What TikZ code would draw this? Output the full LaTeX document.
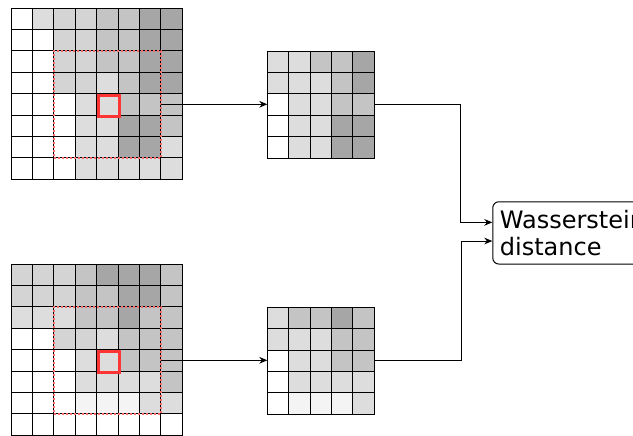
\documentclass[tikz,border=0pt]{standalone}
\usepackage{fontspec}
\usepackage{tikz}
\usetikzlibrary{arrows.meta}
\newfontfamily\labelfont{DejaVu Sans}
\definecolor{lvl0}{HTML}{FFFFFF}
\definecolor{lvl1}{HTML}{F4F4F4}
\definecolor{lvl2}{HTML}{DDDDDD}
\definecolor{lvl3}{HTML}{D4D4D4}
\definecolor{lvl4}{HTML}{C4C4C4}
\definecolor{lvl5}{HTML}{A6A6A6}
\definecolor{winred}{HTML}{F26C6C}
\definecolor{pixred}{HTML}{FF3535}

\begin{document}
\begin{tikzpicture}[x=0.75pt,y=-0.75pt,
  cellline/.style={black,line width=0.7pt},
  gridbox/.style={draw=black,line width=0.7pt,anchor=north west,inner sep=0pt,outer sep=0pt},
  winbox/.style={draw=winred,line width=1.5pt,dash pattern=on 1.6pt off 1.4pt,anchor=north west,inner sep=0pt,outer sep=0pt,minimum size=80.25pt},
  pixbox/.style={draw=pixred,line width=2.2pt,anchor=north west,inner sep=0pt,minimum size=16.05pt},
  conn/.style={-{Stealth[length=6pt,width=5pt]},line width=0.75pt},
  distbox/.style={draw=black,line width=0.75pt,rounded corners=4.5pt,anchor=west,align=left,
    font=\labelfont\fontsize{18}{20.7}\selectfont,inner xsep=5.3pt,minimum height=46.7pt}]
  \useasboundingbox (0,0) rectangle (633,436);

  % input patch 1
  \begin{scope}[shift={(11,8)}]
    \foreach \row [count=\r from 0] in {{0,2,3,3,4,4,5,5},{0,0,3,3,4,4,5,5},{0,0,3,3,4,4,5,5},{0,0,3,3,2,4,5,5},
                                       {0,0,0,2,2,4,4,4},{0,0,0,2,2,5,5,4},{0,0,0,2,2,5,5,2},{0,0,0,2,2,2,2,2}}
      \foreach \v [count=\c from 0] in \row
        \fill[lvl\v] (21.4*\c,21.4*\r) rectangle ++(21.4,21.4);
    \foreach \i in {1,...,7} {
      \draw[cellline] (21.4*\i,0) -- (21.4*\i,171.2);
      \draw[cellline] (0,21.4*\i) -- (171.2,21.4*\i);
    }
  \end{scope}
  \node[gridbox,minimum size=128.4pt] (inA) at (11,8) {};
  \node[winbox] (winA) at (53.8,50.8) {};
  \node[pixbox] (pixA) at (96.6,93.6) {};

  % input patch 2
  \begin{scope}[shift={(11,264)}]
    \foreach \row [count=\r from 0] in {{3,3,3,4,5,5,5,4},{3,3,3,4,4,5,5,4},{2,2,2,4,4,5,4,4},{0,0,3,3,2,4,4,4},
                                       {0,0,0,2,2,4,4,4},{0,0,0,2,2,2,2,4},{0,0,0,1,1,1,2,2},{0,0,0,0,0,0,0,0}}
      \foreach \v [count=\c from 0] in \row
        \fill[lvl\v] (21.4*\c,21.4*\r) rectangle ++(21.4,21.4);
    \foreach \i in {1,...,7} {
      \draw[cellline] (21.4*\i,0) -- (21.4*\i,171.2);
      \draw[cellline] (0,21.4*\i) -- (171.2,21.4*\i);
    }
  \end{scope}
  \node[gridbox,minimum size=128.4pt] (inB) at (11,264) {};
  \node[winbox] (winB) at (53.8,306.8) {};
  \node[pixbox] (pixB) at (96.6,349.6) {};

  % output patches
  \begin{scope}[shift={(267.3,51)}]
    \foreach \row [count=\r from 0] in {{2,2,4,4,5},{2,2,2,4,5},{0,2,2,4,4},{0,2,2,5,5},{0,2,2,5,5}}
      \foreach \v [count=\c from 0] in \row
        \fill[lvl\v] (21.4*\c,21.4*\r) rectangle ++(21.4,21.4);
    \foreach \i in {1,...,4} {
      \draw[cellline] (21.4*\i,0) -- (21.4*\i,107);
      \draw[cellline] (0,21.4*\i) -- (107,21.4*\i);
    }
  \end{scope}
  \node[gridbox,minimum size=80.25pt] (outA) at (267.3,51) {};

  \begin{scope}[shift={(267.3,307.3)}]
    \foreach \row [count=\r from 0] in {{2,4,4,5,4},{2,2,2,4,4},{0,2,2,4,4},{0,2,2,2,2},{0,1,1,1,2}}
      \foreach \v [count=\c from 0] in \row
        \fill[lvl\v] (21.4*\c,21.4*\r) rectangle ++(21.4,21.4);
    \foreach \i in {1,...,4} {
      \draw[cellline] (21.4*\i,0) -- (21.4*\i,107);
      \draw[cellline] (0,21.4*\i) -- (107,21.4*\i);
    }
  \end{scope}
  \node[gridbox,minimum size=80.25pt] (outB) at (267.3,307.3) {};

  \node[distbox] (wd) at (492.3,232.9) {Wasserstein\\distance};

  \draw[conn] (winA.east) -- (winA.east -| outA.west);
  \draw[conn] (winB.east) -- (winB.east -| outB.west);
  \draw[conn] (outA.east) -- ++(86,0) |- ([yshift=7.9pt]wd.west);
  \draw[conn] (outB.east) -- ++(87.2,0) |- ([yshift=-6.1pt]wd.west);
\end{tikzpicture}
\end{document}
